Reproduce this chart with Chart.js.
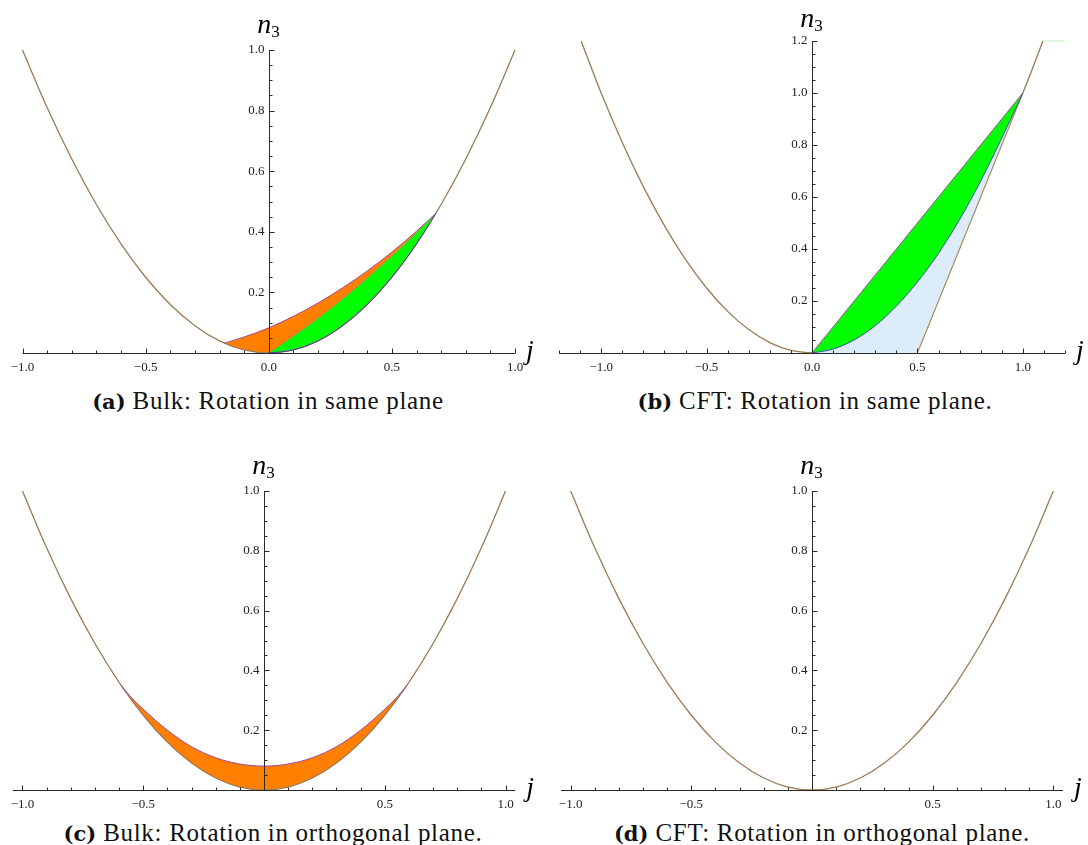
<!DOCTYPE html>
<html>
<head>
<meta charset="utf-8">
<script src="https://cdn.jsdelivr.net/npm/chart.js@4"></script>
<style>
    body { margin: 0; background: #fff; }
    #page { position: relative; width: 1088px; height: 845px; overflow: hidden; font-family: 'Liberation Serif', serif; color: #111; }
    canvas { position: absolute; }
    .cap { position: absolute; font-size: 25px; letter-spacing: 0.7px; white-space: nowrap; transform: translate(-50%, -50%); }
    .cap b { font-family: 'DejaVu Serif', serif; font-size: 21px; letter-spacing: 0; }
</style>
</head>
<body>
<div id="page">
    <canvas id="panelA" width="544" height="385" style="left:0;top:0"></canvas>
    <canvas id="panelB" width="544" height="385" style="left:544px;top:0"></canvas>
    <canvas id="panelC" width="544" height="385" style="left:0;top:430px"></canvas>
    <canvas id="panelD" width="544" height="385" style="left:544px;top:430px"></canvas>
    <div class="cap" id="capA" style="left:268px;top:401px"></div>
    <div class="cap" id="capB" style="left:815px;top:401px"></div>
    <div class="cap" id="capC" style="left:273px;top:833px"></div>
    <div class="cap" id="capD" style="left:822px;top:833px"></div>
</div>
<script>
// ---- data ----

// n3 = j^2 boundary, shared by (a), (c), (d)
const parabolaJ = [-1.0, -0.9, -0.8, -0.7, -0.6, -0.5, -0.4, -0.3, -0.2, -0.1, 0, 0.1, 0.2, 0.3, 0.4, 0.5, 0.6, 0.7, 0.8, 0.9, 1.0];
const parabolaN = [1.0, 0.81, 0.64, 0.49, 0.36, 0.25, 0.16, 0.09, 0.04, 0.01, 0, 0.01, 0.04, 0.09, 0.16, 0.25, 0.36, 0.49, 0.64, 0.81, 1.0];

// same boundary in (b): only drawn for j <= 0 and j >= 1, cut at n3 = 1.2
const bParabolaLeftJ = [-1.095, -1.0, -0.9, -0.8, -0.7, -0.6, -0.5, -0.4, -0.3, -0.2, -0.1, 0];
const bParabolaLeftN = [1.2, 1.0, 0.81, 0.64, 0.49, 0.36, 0.25, 0.16, 0.09, 0.04, 0.01, 0];
const bParabolaRightJ = [1.0, 1.05, 1.095];
const bParabolaRightN = [1.0, 1.1025, 1.2];

// (a) green band
const aGreenJ = [0, 0.1, 0.2, 0.3, 0.4, 0.5, 0.6, 0.68];
const aGreenUpperN = [0, 0.055, 0.114, 0.178, 0.247, 0.320, 0.397, 0.4624];
const aGreenLowerN = [0, 0.01, 0.04, 0.09, 0.16, 0.25, 0.36, 0.4624];
// (a) orange band
const aOrangeJ = [-0.18, -0.1, 0, 0.1, 0.2, 0.3, 0.4, 0.5, 0.6, 0.68];
const aOrangeUpperN = [0.0324, 0.053, 0.083, 0.121, 0.165, 0.215, 0.271, 0.333, 0.402, 0.4624];
const aOrangeLowerN = [0.0324, 0.01, 0, 0.055, 0.114, 0.178, 0.247, 0.320, 0.397, 0.4624];

// (b) green wedge and pale blue region
const bJ = [0, 0.1, 0.2, 0.3, 0.4, 0.5, 0.6, 0.7, 0.8, 0.9, 1.0];
const bDiagN = [0, 0.1, 0.2, 0.3, 0.4, 0.5, 0.6, 0.7, 0.8, 0.9, 1.0];
const bInnerN = [0, 0.015, 0.05, 0.105, 0.18, 0.273, 0.383, 0.513, 0.661, 0.826, 1.0];
const bFloorN = [0, 0, 0, 0, 0, 0, 0.2, 0.4, 0.6, 0.8, 1.0];
const bTangentJ = [0.5, 1.0];
const bTangentN = [0, 1.0];
const bCapJ = [1.095, 1.2];
const bCapN = [1.2, 1.2];

// (c) orange band
const cJ = [-0.59, -0.55, -0.5, -0.4, -0.3, -0.2, -0.1, 0, 0.1, 0.2, 0.3, 0.4, 0.5, 0.55, 0.59];
const cUpperN = [0.348, 0.31, 0.27, 0.2, 0.145, 0.108, 0.087, 0.08, 0.087, 0.108, 0.145, 0.2, 0.27, 0.31, 0.348];
const cLowerN = [0.348, 0.3025, 0.25, 0.16, 0.09, 0.04, 0.01, 0, 0.01, 0.04, 0.09, 0.16, 0.25, 0.3025, 0.348];

// tick labels
const xMajor = [-1, -0.5, 0, 0.5, 1];
const xLabelsTop = ['\u22121.0', '\u22120.5', '0.0', '0.5', '1.0'];
const xLabelsBottom = ['\u22121.0', '\u22120.5', '', '0.5', '1.0'];
const yMajor10 = [0.2, 0.4, 0.6, 0.8, 1.0];
const yLabels10 = ['0.2', '0.4', '0.6', '0.8', '1.0'];
const yMajor12 = [0.2, 0.4, 0.6, 0.8, 1.0, 1.2];
const yLabels12 = ['0.2', '0.4', '0.6', '0.8', '1.0', '1.2'];

// captions
const captionTags = ['(a)', '(b)', '(c)', '(d)'];
const captionTexts = [
    'Bulk: Rotation in same plane',
    'CFT: Rotation in same plane.',
    'Bulk: Rotation in orthogonal plane.',
    'CFT: Rotation in orthogonal plane.'
];

// colours
const BROWN = '#9c7a54';
const ORANGE = '#ff8000';
const GREEN = '#00ff00';
const PALE_BLUE = '#dcecfb';
const PURPLE = '#9a3c9a';
const BLUE = '#3c3cb0';

/**
 * Mathematica style axes crossing at the origin, ticks pointing inwards
 */
const mathAxes = {
    id: 'mathAxes',
    afterDatasetsDraw(chart, args, opts) {
        const ctx = chart.ctx;
        const xs = chart.scales.x;
        const ys = chart.scales.y;
        const x0 = Math.round(xs.getPixelForValue(0)) + 0.5;
        const y0 = Math.round(ys.getPixelForValue(0)) + 0.5;
        const isMajor = (list, v) => list.some(m => Math.abs(m - v) < 1e-6);

        ctx.save();
        ctx.strokeStyle = '#2a2a2a';
        ctx.lineWidth = 1;
        ctx.beginPath();
        ctx.moveTo(xs.left, y0);
        ctx.lineTo(xs.right, y0);
        ctx.moveTo(x0, ys.bottom + 0.5);
        ctx.lineTo(x0, ys.top);

        // x ticks (up)
        const nx = Math.round((opts.xTo - opts.xFrom) / 0.1);
        for (let i = 0; i <= nx; i++) {
            const v = opts.xFrom + i * 0.1;
            const px = Math.round(xs.getPixelForValue(v)) + 0.5;
            ctx.moveTo(px, y0);
            ctx.lineTo(px, y0 - (isMajor(xMajor, v) ? 5 : 3));
        }
        // y ticks (right)
        const ny = Math.round(opts.yTo / 0.05);
        for (let i = 1; i <= ny; i++) {
            const v = i * 0.05;
            const py = Math.round(ys.getPixelForValue(v)) + 0.5;
            ctx.moveTo(x0, py);
            ctx.lineTo(x0 + (isMajor(opts.yMajor, v) ? 5 : 3), py);
        }
        ctx.stroke();

        // tick labels
        ctx.fillStyle = '#222';
        ctx.font = '13px "Liberation Serif"';
        ctx.textAlign = 'center';
        ctx.textBaseline = 'middle';
        xMajor.forEach((v, i) => {
            if (opts.xLabels[i]) ctx.fillText(opts.xLabels[i], xs.getPixelForValue(v), y0 + 14);
        });
        ctx.textAlign = 'right';
        opts.yMajor.forEach((v, i) => {
            ctx.fillText(opts.yLabels[i], x0 - 5, ys.getPixelForValue(v));
        });

        // axis names
        ctx.textBaseline = 'alphabetic';
        ctx.textAlign = 'left';
        ctx.fillStyle = '#000';
        ctx.font = 'italic 28px "Liberation Serif"';
        const wn = ctx.measureText('n').width;
        ctx.font = '17px "Liberation Serif"';
        const w3 = ctx.measureText('3').width;
        const left = x0 - (wn + w3) / 2 - 1;
        const base = ys.top - opts.nGap;
        ctx.font = 'italic 28px "Liberation Serif"';
        ctx.fillText('n', left, base);
        ctx.font = '17px "Liberation Serif"';
        ctx.fillText('3', left + wn, base + 4);
        ctx.font = 'italic 28px "Liberation Serif"';
        ctx.fillText('j', xs.right + 11, y0 + 5);
        ctx.restore();
    }
};

function curve(js, ns, style) {
    return Object.assign({
        data: js.map((j, i) => ({ x: j, y: ns[i] })),
        borderColor: 'transparent',
        borderWidth: 0,
        pointRadius: 0,
        fill: false,
        cubicInterpolationMode: 'monotone',
        clip: false
    }, style);
}

function makePanel(id, cfg) {
    return new Chart(document.getElementById(id), {
        type: 'line',
        data: { datasets: cfg.datasets },
        options: {
            responsive: false,
            animation: false,
            events: [],
            layout: { padding: cfg.padding },
            plugins: {
                legend: { display: false },
                tooltip: { enabled: false },
                // all fills first, then the lines on top
                filler: { drawTime: 'beforeDatasetsDraw' },
                mathAxes: cfg.axes
            },
            scales: {
                x: { type: 'linear', display: false, min: cfg.xMin, max: cfg.xMax },
                y: { type: 'linear', display: false, min: 0, max: cfg.yMax }
            }
        },
        plugins: [mathAxes]
    });
}

const parabolaLine = { borderColor: BROWN, borderWidth: 1.3 };
const straight = { cubicInterpolationMode: 'default', tension: 0 };

// (a) Bulk, same plane -- later datasets are drawn underneath
makePanel('panelA', {
    padding: { left: 22.5, right: 29, top: 50, bottom: 32 },
    xMin: -1, xMax: 1, yMax: 1,
    axes: { xFrom: -1, xTo: 1, xLabels: xLabelsTop, yTo: 1, yMajor: yMajor10, yLabels: yLabels10, nGap: 17 },
    datasets: [
        curve(aGreenJ, aGreenUpperN, { borderColor: '#8c8c6c', borderWidth: 0.8, fill: 1, backgroundColor: GREEN }),
        curve(aGreenJ, aGreenLowerN, { borderColor: BLUE, borderWidth: 0.9 }),
        curve(aOrangeJ, aOrangeUpperN, { borderColor: PURPLE, borderWidth: 0.9, fill: 3, backgroundColor: ORANGE }),
        curve(aOrangeJ, aOrangeLowerN, {}),
        curve(parabolaJ, parabolaN, parabolaLine)
    ]
});

// (b) CFT, same plane
makePanel('panelB', {
    padding: { left: 15, right: 23, top: 41, bottom: 32 },
    xMin: -1.2, xMax: 1.2, yMax: 1.2,
    axes: { xFrom: -1.2, xTo: 1.2, xLabels: xLabelsTop, yTo: 1.2, yMajor: yMajor12, yLabels: yLabels12, nGap: 14 },
    datasets: [
        curve(bJ, bDiagN, Object.assign({ borderColor: PURPLE, borderWidth: 0.9, fill: 1, backgroundColor: GREEN }, straight)),
        curve(bJ, bInnerN, { borderColor: BLUE, borderWidth: 0.9 }),
        curve(bJ, bFloorN, Object.assign({ fill: 1, backgroundColor: PALE_BLUE }, straight)),
        curve(bTangentJ, bTangentN, Object.assign({ borderColor: '#a08850', borderWidth: 1.1 }, straight)),
        curve(bCapJ, bCapN, Object.assign({ borderColor: '#c8f5c8', borderWidth: 1.2 }, straight)),
        curve(bParabolaLeftJ, bParabolaLeftN, parabolaLine),
        curve(bParabolaRightJ, bParabolaRightN, parabolaLine)
    ]
});

// (c) Bulk, orthogonal plane
makePanel('panelC', {
    padding: { left: 12.8, right: 28.8, top: 61, bottom: 25 },
    xMin: -1.04, xMax: 1.04, yMax: 1,
    axes: { xFrom: -1, xTo: 1, xLabels: xLabelsBottom, yTo: 1, yMajor: yMajor10, yLabels: yLabels10, nGap: 17 },
    datasets: [
        curve(cJ, cUpperN, { borderColor: PURPLE, borderWidth: 0.9, fill: 1, backgroundColor: ORANGE }),
        curve(cJ, cLowerN, {}),
        curve(parabolaJ, parabolaN, parabolaLine)
    ]
});

// (d) CFT, orthogonal plane
makePanel('panelD', {
    padding: { left: 17, right: 25, top: 61, bottom: 25 },
    xMin: -1.04, xMax: 1.04, yMax: 1,
    axes: { xFrom: -1, xTo: 1, xLabels: xLabelsBottom, yTo: 1, yMajor: yMajor10, yLabels: yLabels10, nGap: 17 },
    datasets: [
        curve(parabolaJ, parabolaN, parabolaLine)
    ]
});

// captions
['capA', 'capB', 'capC', 'capD'].forEach((id, i) => {
    const el = document.getElementById(id);
    const tag = document.createElement('b');
    tag.textContent = captionTags[i];
    el.appendChild(tag);
    el.appendChild(document.createTextNode(' ' + captionTexts[i]));
});
</script>
</body>
</html>
